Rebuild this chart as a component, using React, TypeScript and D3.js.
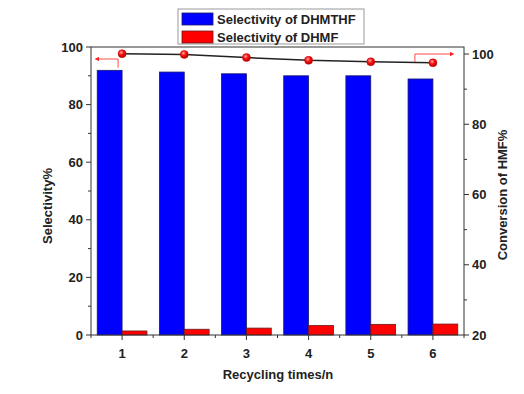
import * as d3 from "d3";

const cycles = ["1", "2", "3", "4", "5", "6"];
const selDHMTHF = [91.9, 91.3, 90.7, 90.0, 90.0, 88.9];
const selDHMF = [1.4, 2.0, 2.4, 3.3, 3.7, 3.8];
const conversion = [100.1, 99.9, 99.0, 98.2, 97.8, 97.5];
const leftTicks = [0, 20, 40, 60, 80, 100];
const rightTicks = [20, 40, 60, 80, 100];

export default function App() {
  const width = 524,
    height = 394;
  const left = 91,
    right = 464,
    top = 47,
    bottom = 335;
  const font = "'Liberation Sans', Arial, sans-serif";
  const fs = 13;

  const x = d3.scaleBand().domain(cycles).range([left, right]).padding(0);
  const yL = d3.scaleLinear().domain([0, 100]).range([bottom, top]);
  const yR = d3.scaleLinear().domain([20, 102]).range([bottom, top]);
  const barW = x.bandwidth() * 0.4;
  const cx = (c: string) => (x(c) as number) + x.bandwidth() / 2;

  const line = d3
    .line<number>()
    .x((_, i) => cx(cycles[i]))
    .y((d) => yR(d));

  const leftMinor = d3.range(10, 100, 20);
  const rightMinor = d3.range(30, 100, 20);
  const bounds = d3.range(0, cycles.length + 1).map((i) => left + i * x.step());

  const p1x = cx(cycles[0]) - 4;
  const p6x = cx(cycles[5]) - 18;

  return (
    <div style={{ position: "absolute", left: 0, top: 0 }}>
      <svg width={width} height={height} style={{ display: "block" }} fontFamily={font}>
        <defs>
          <radialGradient id="ball" cx="40%" cy="35%" r="65%">
            <stop offset="0%" stopColor="#ffb0b0" />
            <stop offset="45%" stopColor="#ff1010" />
            <stop offset="100%" stopColor="#b00000" />
          </radialGradient>
          <marker id="arrL" viewBox="0 0 10 10" refX="1" refY="5" markerWidth="6" markerHeight="6" orient="auto-start-reverse">
            <path d="M0,0 L10,5 L0,10 z" fill="#ff2020" />
          </marker>
        </defs>
        <rect width={width} height={height} fill="#fff" />

        {/* bars */}
        {cycles.map((c, i) => (
          <g key={c}>
            <rect
              x={cx(c) - barW}
              y={yL(selDHMTHF[i])}
              width={barW}
              height={bottom - yL(selDHMTHF[i])}
              fill="#0000ff"
              stroke="#1a1a6a"
              strokeWidth={0.8}
            />
            <rect
              x={cx(c)}
              y={yL(selDHMF[i])}
              width={barW}
              height={bottom - yL(selDHMF[i])}
              fill="#ff0000"
              stroke="#6a1a1a"
              strokeWidth={0.8}
            />
          </g>
        ))}

        {/* conversion line */}
        <path d={line(conversion) ?? ""} fill="none" stroke="#222" strokeWidth={1.5} />
        {conversion.map((v, i) => (
          <circle key={i} cx={cx(cycles[i])} cy={yR(v)} r={4} fill="url(#ball)" stroke="#c00000" strokeWidth={0.5} />
        ))}

        {/* direction arrows */}
        <path
          d={`M${p1x},${yR(conversion[0]) + 14} V${top + 12} H${left + 8}`}
          fill="none"
          stroke="#ff2020"
          strokeWidth={0.8}
          markerEnd="url(#arrL)"
        />
        <path
          d={`M${p6x},${yR(conversion[5]) - 1} V${yR(100)} H${right - 14}`}
          fill="none"
          stroke="#ff2020"
          strokeWidth={0.8}
          markerEnd="url(#arrL)"
        />

        {/* frame */}
        <rect x={left} y={top} width={right - left} height={bottom - top} fill="none" stroke="#333" strokeWidth={1} />

        {/* left axis */}
        {leftTicks.map((t) => (
          <g key={t}>
            <line x1={left - 5} x2={left} y1={yL(t)} y2={yL(t)} stroke="#333" />
            <text x={left - 8} y={yL(t)} textAnchor="end" dominantBaseline="central" fontSize={fs} fontWeight="bold" fill="#222">
              {t}
            </text>
          </g>
        ))}
        {leftMinor.map((t) => (
          <line key={t} x1={left - 3} x2={left} y1={yL(t)} y2={yL(t)} stroke="#333" />
        ))}

        {/* right axis */}
        {rightTicks.map((t) => (
          <g key={t}>
            <line x1={right} x2={right + 5} y1={yR(t)} y2={yR(t)} stroke="#333" />
            <text x={right + 8} y={yR(t)} textAnchor="start" dominantBaseline="central" fontSize={fs} fontWeight="bold" fill="#222">
              {t}
            </text>
          </g>
        ))}
        {rightMinor.map((t) => (
          <line key={t} x1={right} x2={right + 3} y1={yR(t)} y2={yR(t)} stroke="#333" />
        ))}

        {/* bottom axis */}
        {cycles.map((c) => (
          <g key={c}>
            <line x1={cx(c)} x2={cx(c)} y1={bottom} y2={bottom + 5} stroke="#333" />
            <text x={cx(c)} y={bottom + 18} textAnchor="middle" dominantBaseline="central" fontSize={fs} fontWeight="bold" fill="#222">
              {c}
            </text>
          </g>
        ))}
        {bounds.map((b, i) => (
          <line key={i} x1={b} x2={b} y1={bottom} y2={bottom + 3} stroke="#333" />
        ))}

        {/* axis titles */}
        <text x={278} y={374} textAnchor="middle" dominantBaseline="central" fontSize={fs} fontWeight="bold" fill="#222">
          Recycling times/n
        </text>
        <text
          transform={`translate(47,206) rotate(-90)`}
          textAnchor="middle"
          dominantBaseline="central"
          fontSize={fs}
          fontWeight="bold"
          fill="#222"
        >
          Selectivity%
        </text>
        <text
          transform={`translate(502,195) rotate(-90)`}
          textAnchor="middle"
          dominantBaseline="central"
          fontSize={fs}
          fontWeight="bold"
          fill="#222"
        >
          Conversion of HMF%
        </text>

        {/* legend */}
        <rect x={178} y={9} width={186} height={35} fill="#fff" stroke="#999" strokeWidth={1} />
        <rect x={182} y={13} width={31} height={12} fill="#0000ff" stroke="#1a1a6a" strokeWidth={0.8} />
        <text x={217} y={19} dominantBaseline="central" fontSize={fs} fontWeight="bold" fill="#222">
          Selectivity of DHMTHF
        </text>
        <rect x={182} y={31} width={31} height={12} fill="#ff0000" stroke="#6a1a1a" strokeWidth={0.8} />
        <text x={217} y={37} dominantBaseline="central" fontSize={fs} fontWeight="bold" fill="#222">
          Selectivity of DHMF
        </text>
      </svg>
    </div>
  );
}
